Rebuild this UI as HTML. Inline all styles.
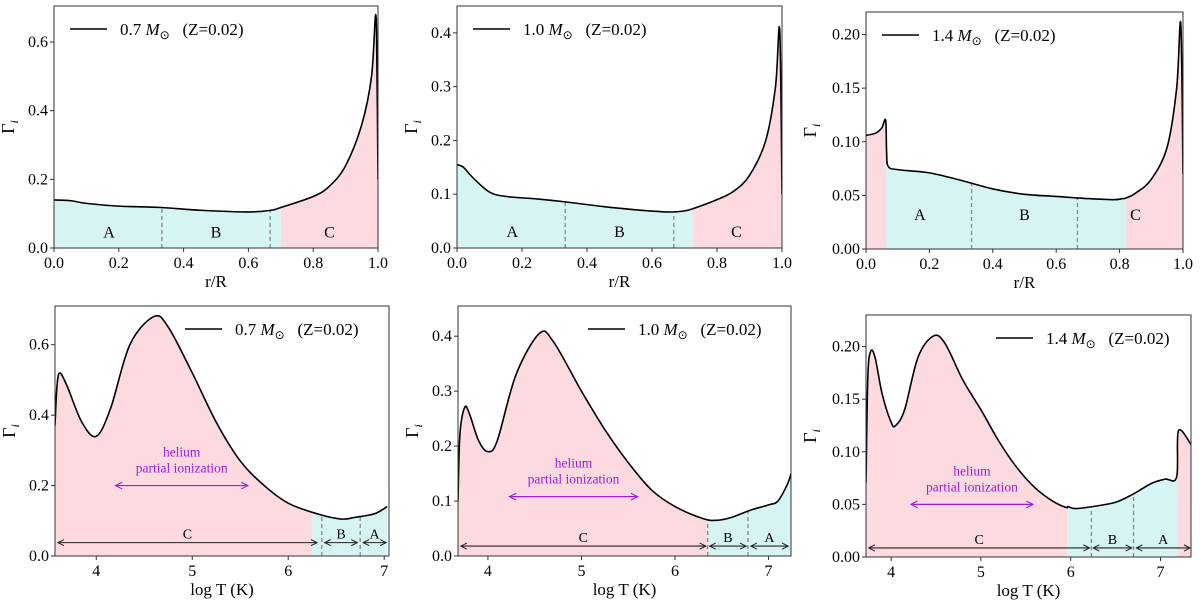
<!DOCTYPE html>
<html><head><meta charset="utf-8"><style>
body{margin:0;background:#fff}
svg{display:block;font-family:"Liberation Serif",serif}
text{font-family:"Liberation Serif",serif}
</style></head><body>
<svg id="fig" width="1200" height="609"></svg>
<script>
// ---- data ----
const p1x=[0,0.05,0.1,0.2,0.33,0.45,0.6,0.67,0.7,0.8,0.85,0.9,0.95,0.98,0.993,0.997,1.0];
const p1y=[0.14,0.138,0.13,0.122,0.118,0.11,0.105,0.11,0.118,0.15,0.18,0.24,0.36,0.5,0.68,0.5,0.2];
const p2x=[0,0.02,0.05,0.1,0.15,0.25,0.33,0.45,0.55,0.65,0.7,0.73,0.8,0.85,0.9,0.95,0.98,0.993,1.0];
const p2y=[0.155,0.15,0.13,0.104,0.096,0.091,0.086,0.077,0.071,0.067,0.069,0.074,0.09,0.105,0.135,0.2,0.3,0.405,0.1];
const p3x=[0,0.03,0.05,0.062,0.065,0.07,0.1,0.2,0.3,0.4,0.5,0.6,0.7,0.78,0.81,0.82,0.85,0.9,0.95,0.98,0.993,1.0];
const p3y=[0.106,0.108,0.113,0.12,0.09,0.077,0.074,0.071,0.064,0.056,0.051,0.049,0.047,0.046,0.047,0.0475,0.052,0.065,0.095,0.15,0.21,0.07];
const p4x=[3.57,3.59,3.62,3.7,3.85,4.0,4.15,4.35,4.6,4.75,5.0,5.25,5.5,5.75,6.0,6.3,6.55,6.7,6.9,7.03];
const p4y=[0.37,0.48,0.52,0.48,0.38,0.34,0.42,0.6,0.68,0.65,0.52,0.38,0.27,0.2,0.15,0.12,0.105,0.11,0.12,0.14];
const p5x=[3.68,3.7,3.75,3.8,3.9,4.0,4.1,4.3,4.55,4.7,5.0,5.25,5.5,5.75,6.0,6.3,6.45,6.6,6.8,7.0,7.1,7.2,7.24];
const p5y=[0.1,0.22,0.27,0.26,0.21,0.19,0.21,0.33,0.405,0.39,0.3,0.23,0.17,0.12,0.09,0.068,0.065,0.07,0.083,0.093,0.1,0.13,0.15];
const p6x=[3.72,3.74,3.77,3.82,3.9,4.0,4.05,4.15,4.3,4.47,4.6,4.8,5.0,5.2,5.4,5.6,5.8,5.95,5.97,6.05,6.25,6.5,6.7,6.9,7.05,7.18,7.2,7.34];
const p6y=[0.07,0.17,0.195,0.19,0.155,0.128,0.125,0.14,0.19,0.21,0.203,0.168,0.14,0.11,0.085,0.066,0.053,0.047,0.048,0.046,0.048,0.052,0.06,0.07,0.074,0.076,0.12,0.107];
const topTicks=[0,0.2,0.4,0.6,0.8,1.0];
const topTickLabels=["0.0","0.2","0.4","0.6","0.8","1.0"];
const tTicks=[4,5,6,7];
const tTickLabels=["4","5","6","7"];
const legendLabels=["0.7","1.0","1.4"];

const PINK="#fdd9e0",CYAN="#d6f4f4";
const panels=[
 {id:"p1",x:p1x,y:p1y,L:54,R:378,T:6,B:248,xmin:0,xmax:1,ymin:0,ymax:0.705,yt:[0,0.2,0.4,0.6],yl:["0.0","0.2","0.4","0.6"],top:true,m:0,
  regions:[[0,0.7,CYAN],[0.7,1,PINK]],dashes:[0.333,0.667],letters:[["A",0.17,0.03],["B",0.5,0.03],["C",0.85,0.03]]},
 {id:"p2",x:p2x,y:p2y,L:457,R:782,T:6,B:248,xmin:0,xmax:1,ymin:0,ymax:0.45,yt:[0,0.1,0.2,0.3,0.4],yl:["0.0","0.1","0.2","0.3","0.4"],top:true,m:1,
  regions:[[0,0.725,CYAN],[0.725,1,PINK]],dashes:[0.333,0.667],letters:[["A",0.17,0.02],["B",0.5,0.02],["C",0.86,0.02]]},
 {id:"p3",x:p3x,y:p3y,L:866,R:1183,T:12,B:249,xmin:0,xmax:1,ymin:0,ymax:0.221,yt:[0,0.05,0.1,0.15,0.2],yl:["0.00","0.05","0.10","0.15","0.20"],top:true,m:2,
  regions:[[0,0.063,PINK],[0.063,0.82,CYAN],[0.82,1,PINK]],dashes:[0.333,0.667],letters:[["A",0.17,0.027],["B",0.5,0.027],["C",0.85,0.027]]},
 {id:"p4",x:p4x,y:p4y,L:55,R:389,T:306,B:556,xmin:3.57,xmax:7.05,ymin:0,ymax:0.71,yt:[0,0.2,0.4,0.6],yl:["0.0","0.2","0.4","0.6"],top:false,m:0,
  regions:[[3.5,6.25,PINK],[6.25,7.1,CYAN]],dashes:[6.35,6.75],
  arrows:[["C",3.6,6.3],["B",6.38,6.72],["A",6.78,7.02]],ay:0.038,he:[4.2,5.58,0.2]},
 {id:"p5",x:p5x,y:p5y,L:458,R:791,T:306,B:556,xmin:3.68,xmax:7.24,ymin:0,ymax:0.455,yt:[0,0.1,0.2,0.3,0.4],yl:["0.0","0.1","0.2","0.3","0.4"],top:false,m:1,
  regions:[[3.6,6.35,PINK],[6.35,7.3,CYAN]],dashes:[6.35,6.78],
  arrows:[["C",3.71,6.33],["B",6.37,6.76],["A",6.81,7.21]],ay:0.018,he:[4.23,5.6,0.108]},
 {id:"p6",x:p6x,y:p6y,L:866,R:1191,T:315,B:557,xmin:3.72,xmax:7.34,ymin:0,ymax:0.23,yt:[0,0.05,0.1,0.15,0.2],yl:["0.00","0.05","0.10","0.15","0.20"],top:false,m:2,
  regions:[[3.6,5.96,PINK],[5.96,7.19,CYAN],[7.19,7.4,PINK]],dashes:[6.23,6.7],
  arrows:[["C",3.75,6.21],["B",6.25,6.68],["A",6.73,7.33]],ay:0.0086,he:[4.22,5.58,0.05]}
];

const NS="http://www.w3.org/2000/svg";
const svg=document.getElementById("fig");
function mk(tag,attrs,parent,text){const e=document.createElementNS(NS,tag);for(const k in attrs)e.setAttribute(k,attrs[k]);if(text!==undefined)e.textContent=text;(parent||svg).appendChild(e);return e;}
const defs=mk("defs",{});
function marker(id,orient,color){const m=mk("marker",{id:id,viewBox:"0 0 10 10",refX:"9",refY:"5",markerWidth:"7",markerHeight:"7",orient:orient},defs);mk("path",{d:"M1,1 L9,5 L1,9",fill:"none",stroke:color,"stroke-width":"1.3"},m);}
marker("ak","auto-start-reverse","#222");marker("ap","auto-start-reverse","#9b1fd6");

function interp(xs,ys,v){for(let i=0;i<xs.length-1;i++){if(v>=xs[i]&&v<=xs[i+1]){const t=(v-xs[i])/(xs[i+1]-xs[i]);return ys[i]+t*(ys[i+1]-ys[i]);}}return ys[ys.length-1];}
function smooth(pts){let d="M"+pts[0][0]+","+pts[0][1];for(let i=0;i<pts.length-1;i++){const p0=pts[Math.max(0,i-1)],p1=pts[i],p2=pts[i+1],p3=pts[Math.min(pts.length-1,i+2)];
 const c1=[p1[0]+(p2[0]-p0[0])/6,p1[1]+(p2[1]-p0[1])/6],c2=[p2[0]-(p3[0]-p1[0])/6,p2[1]-(p3[1]-p1[1])/6];
 d+=" C"+c1[0].toFixed(2)+","+c1[1].toFixed(2)+" "+c2[0].toFixed(2)+","+c2[1].toFixed(2)+" "+p2[0].toFixed(2)+","+p2[1].toFixed(2);}return d;}

panels.forEach((P,pi)=>{
 const sx=v=>P.L+(v-P.xmin)/(P.xmax-P.xmin)*(P.R-P.L);
 const sy=v=>P.B-(v-P.ymin)/(P.ymax-P.ymin)*(P.B-P.T);
 const g=mk("g",{});
 
 
 const cp=mk("clipPath",{id:"clip"+pi},defs);mk("rect",{x:P.L,y:P.T,width:P.R-P.L,height:P.B-P.T},cp);
 const pts=P.x.map((v,i)=>[sx(v),sy(P.y[i])]);
 const curve=smooth(pts);
 const area=curve+" L"+pts[pts.length-1][0]+","+P.B+" L"+pts[0][0]+","+P.B+" Z";
 const inner=mk("g",{"clip-path":"url(#clip"+pi+")"},g);
 P.regions.forEach((r,ri)=>{
  const rc=mk("clipPath",{id:"rc"+pi+"_"+ri},defs);
  mk("rect",{x:sx(r[0]),y:P.T,width:Math.max(0,sx(r[1])-sx(r[0])),height:P.B-P.T},rc);
  const a=mk("path",{d:area,fill:r[2],"clip-path":"url(#rc"+pi+"_"+ri+")"},inner);
  
  
 });
 P.dashes.forEach(dx=>{
  const l=mk("line",{x1:sx(dx),x2:sx(dx),y1:P.B,y2:sy(interp(P.x,P.y,dx)),stroke:"#888","stroke-width":"1.3","stroke-dasharray":"4,3"},inner);
  
  
 });
 const line=mk("path",{d:curve,fill:"none",stroke:"#000","stroke-width":"1.6"},inner);
 
 
 if(P.letters)P.letters.forEach(t=>{
  const e=mk("text",{x:sx(t[1]),y:sy(t[2]),"font-size":"16","text-anchor":"middle"},g,t[0]);
  
  
 });
 if(P.arrows){P.arrows.forEach(a=>{
  const y=sy(P.ay);
  const l=mk("line",{x1:sx(a[1]),x2:sx(a[2]),y1:y,y2:y,stroke:"#222","stroke-width":"1.1","marker-start":"url(#ak)","marker-end":"url(#ak)"},g);
  
  
  const t=mk("text",{x:(sx(a[1])+sx(a[2]))/2,y:y-4,"font-size":"14","text-anchor":"middle"},g,a[0]);
  
  
 });
 const hy=sy(P.he[2]),hx=(sx(P.he[0])+sx(P.he[1]))/2;
 const ha=mk("line",{x1:sx(P.he[0]),x2:sx(P.he[1]),y1:hy,y2:hy,stroke:"#9b1fd6","stroke-width":"1.2","marker-start":"url(#ap)","marker-end":"url(#ap)"},g);
 
 
 const h1=mk("text",{x:hx,y:hy-29,"font-size":"13.5",fill:"#9b1fd6","text-anchor":"middle"},g,"helium");
 
 
 const h2=mk("text",{x:hx,y:hy-13,"font-size":"13.5",fill:"#9b1fd6","text-anchor":"middle"},g,"partial ionization");
 
 
 }
 const fr=mk("rect",{x:P.L,y:P.T,width:P.R-P.L,height:P.B-P.T,fill:"none",stroke:"#333","stroke-width":"1"},g);
 
 
 P.yt.forEach((v,i)=>{
  mk("line",{x1:P.L-4,x2:P.L,y1:sy(v),y2:sy(v),stroke:"#333"},g);
  const t=mk("text",{x:P.L-6,y:sy(v)+5,"font-size":"16","text-anchor":"end"},g,P.yl[i]);
  
  
 });
 const xt=P.top?topTicks:tTicks, xl=P.top?topTickLabels:tTickLabels;
 xt.forEach((v,i)=>{
  if(v<P.xmin-1e-6||v>P.xmax+1e-6)return;
  mk("line",{x1:sx(v),x2:sx(v),y1:P.B,y2:P.B+4,stroke:"#333"},g);
  const t=mk("text",{x:sx(v),y:P.B+20,"font-size":"16","text-anchor":"middle"},g,xl[i]);
  
  
 });
 const xlab=mk("text",{x:(P.L+P.R)/2,y:P.B+39,"font-size":"17","text-anchor":"middle"},g,P.top?"r/R":"log T (K)");
 
 
 const yx=P.L-(P.yl[0].length>3?50:40), ym=(P.T+P.B)/2;
 const ylab=mk("text",{x:yx,y:ym,"font-size":"18","text-anchor":"middle",transform:"rotate(-90 "+yx+" "+ym+")"},g);
 
 
 mk("tspan",{},ylab,"Γ");mk("tspan",{"font-size":"12",dy:"4","font-style":"italic"},ylab,"i");
 const lx=P.top?P.L+16:P.L+130, ly=P.T+23;
 const lg=mk("g",{},g);
 
 
 mk("line",{x1:lx,x2:lx+37,y1:ly,y2:ly,stroke:"#000","stroke-width":"1.6"},lg);
 const lt=mk("text",{x:lx+50,y:ly+6,"font-size":"17"},lg);
 mk("tspan",{},lt,legendLabels[P.m]+" ");mk("tspan",{"font-style":"italic"},lt,"M");mk("tspan",{"font-size":"12",dy:"4"},lt,"⊙");
 mk("tspan",{dy:"-4"},lt,"\u00a0\u00a0\u00a0(Z=0.02)");
});
</script>
</body></html>
